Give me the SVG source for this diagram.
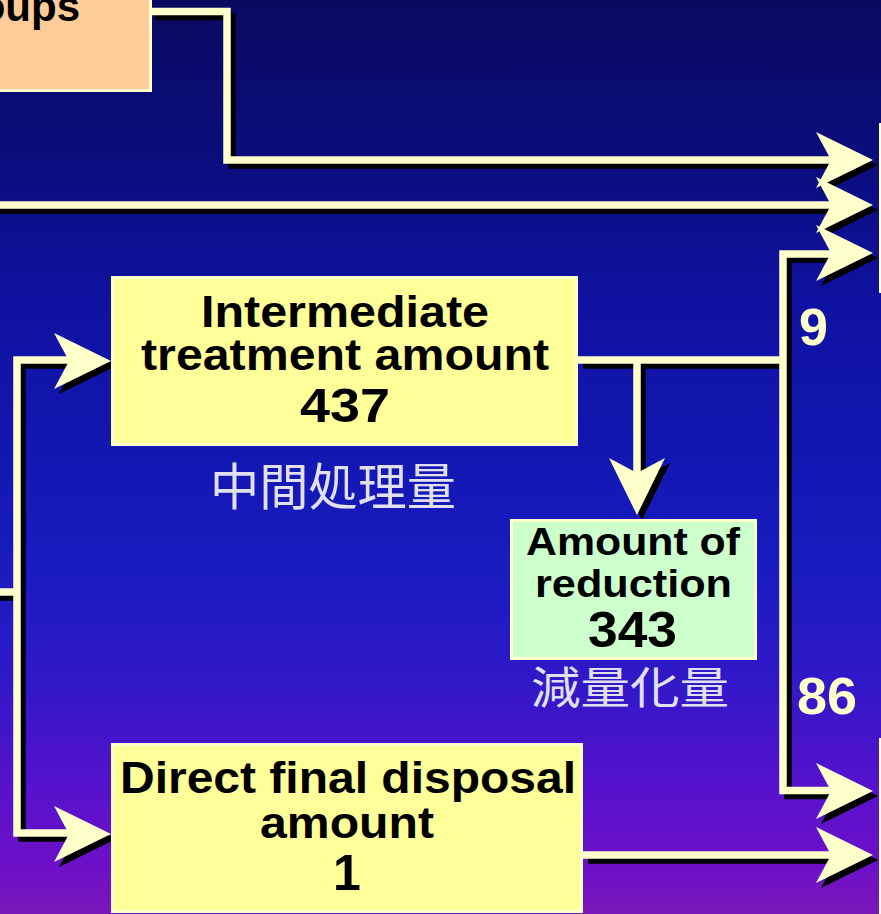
<svg xmlns="http://www.w3.org/2000/svg" xmlns:xlink="http://www.w3.org/1999/xlink" width="881" height="914" viewBox="0 0 881 914">
<defs>
<linearGradient id="bg" x1="0" y1="0" x2="0" y2="914" gradientUnits="userSpaceOnUse">
<stop offset="0" stop-color="#0a0a60"/>
<stop offset="0.17" stop-color="#0b0d7c"/>
<stop offset="0.33" stop-color="#0f12a0"/>
<stop offset="0.5" stop-color="#1317b2"/>
<stop offset="0.63" stop-color="#1a1cc0"/>
<stop offset="0.75" stop-color="#3218c8"/>
<stop offset="0.86" stop-color="#5612cc"/>
<stop offset="0.95" stop-color="#6e10c8"/>
<stop offset="1" stop-color="#7818b8"/>
</linearGradient>
<path id="ah" d="M0 0 L-57 -28 L-42 0 L-57 28 Z"/>
<style>
.ln{fill:none;stroke:#ffffcc;stroke-width:7.5;stroke-linejoin:miter;stroke-linecap:butt}
.sh .ln{stroke:#000}
.hd{fill:#ffffcc}
.sh .hd{fill:#000}
.box{stroke:#ffffcc;stroke-width:3}
.yel{fill:#ffff99}
.grn{fill:#ccffcc}
.pch{fill:#ffcc99}
.t{font-family:"Liberation Sans",Arial,sans-serif;font-weight:bold;fill:#000}
.lbl{font-family:"Liberation Sans",Arial,sans-serif;font-weight:bold;fill:#ffffcc;font-size:52px}
.jp{font-family:"Noto Sans CJK JP",sans-serif;fill:#e0e0ee}
</style>
</defs>
<rect x="0" y="0" width="881" height="914" fill="url(#bg)"/>

<g id="connectors">
<g class="sh" transform="translate(5,5)">
<path class="ln" d="M150 11.5 H227 V160 H836"/>
<path class="ln" d="M-10 205 H836"/>
<path class="ln" d="M836 254 H783 V790.5 H836"/>
<path class="ln" d="M578 360 H783"/>
<path class="ln" d="M637 360 V477"/>
<path class="ln" d="M-10 592 H17"/>
<path class="ln" d="M74 360 H17 V833 H74"/>
<path class="ln" d="M583 855 H836"/>
<use href="#ah" class="hd" transform="translate(873,160)"/>
<use href="#ah" class="hd" transform="translate(873,205)"/>
<use href="#ah" class="hd" transform="translate(873,253)"/>
<use href="#ah" class="hd" transform="translate(873,791)"/>
<use href="#ah" class="hd" transform="translate(873,855)"/>
<use href="#ah" class="hd" transform="translate(111,361)"/>
<use href="#ah" class="hd" transform="translate(111,834)"/>
<use href="#ah" class="hd" transform="translate(637,515) rotate(90)"/>
</g>
<g>
<path class="ln" d="M150 11.5 H227 V160 H836"/>
<path class="ln" d="M-10 205 H836"/>
<path class="ln" d="M836 254 H783 V790.5 H836"/>
<path class="ln" d="M578 360 H783"/>
<path class="ln" d="M637 360 V477"/>
<path class="ln" d="M-10 592 H17"/>
<path class="ln" d="M74 360 H17 V833 H74"/>
<path class="ln" d="M583 855 H836"/>
<use href="#ah" class="hd" transform="translate(873,160)"/>
<use href="#ah" class="hd" transform="translate(873,205)"/>
<use href="#ah" class="hd" transform="translate(873,253)"/>
<use href="#ah" class="hd" transform="translate(873,791)"/>
<use href="#ah" class="hd" transform="translate(873,855)"/>
<use href="#ah" class="hd" transform="translate(111,361)"/>
<use href="#ah" class="hd" transform="translate(111,834)"/>
<use href="#ah" class="hd" transform="translate(637,515) rotate(90)"/>
</g>
<text class="lbl" x="799" y="345">9</text>
<text class="lbl" x="797" y="714" textLength="60" lengthAdjust="spacingAndGlyphs">86</text>
</g>

<g id="node-groups">
<rect class="box pch" x="-10" y="-10" width="160.5" height="100.5"/>
<text class="t" x="80" y="21" font-size="42" text-anchor="end">oups</text>
</g>

<g id="node-right-top">
<rect class="box yel" x="880.5" y="124.5" width="40" height="167"/>
</g>
<g id="node-right-bottom">
<rect class="box yel" x="880.5" y="739.5" width="40" height="200"/>
</g>

<g id="node-intermediate">
<rect class="box yel" x="112.5" y="277.5" width="464" height="167"/>
<text class="t" x="201" y="327" font-size="45" textLength="288" lengthAdjust="spacingAndGlyphs">Intermediate</text>
<text class="t" x="141" y="370" font-size="45" textLength="408" lengthAdjust="spacingAndGlyphs">treatment amount</text>
<text class="t" x="300" y="422" font-size="49" textLength="90" lengthAdjust="spacingAndGlyphs">437</text>
<text class="jp" x="210" y="505" font-size="50" textLength="246" lengthAdjust="spacingAndGlyphs">中間処理量</text>
</g>

<g id="node-reduction">
<rect class="box grn" x="511.5" y="520.5" width="244" height="138"/>
<text class="t" x="526" y="555" font-size="39" textLength="214" lengthAdjust="spacingAndGlyphs">Amount of</text>
<text class="t" x="535" y="597" font-size="39" textLength="197" lengthAdjust="spacingAndGlyphs">reduction</text>
<text class="t" x="588" y="647" font-size="50" textLength="89" lengthAdjust="spacingAndGlyphs">343</text>
<text class="jp" x="531" y="704" font-size="44" textLength="198" lengthAdjust="spacingAndGlyphs">減量化量</text>
</g>

<g id="node-direct">
<rect class="box yel" x="112.5" y="744.5" width="469" height="167"/>
<text class="t" x="120" y="793" font-size="45" textLength="456" lengthAdjust="spacingAndGlyphs">Direct final disposal</text>
<text class="t" x="260" y="838" font-size="45" textLength="174" lengthAdjust="spacingAndGlyphs">amount</text>
<text class="t" x="333" y="890" font-size="50">1</text>
</g>
</svg>
